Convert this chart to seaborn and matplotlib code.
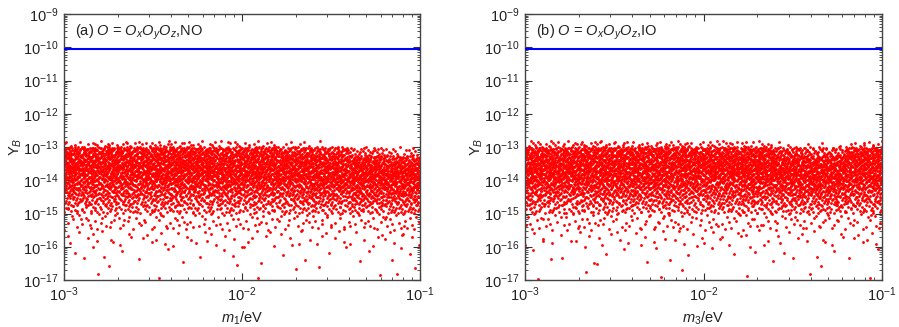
import numpy as np
import pandas as pd
import matplotlib
matplotlib.use("Agg")
import matplotlib.pyplot as plt
import matplotlib.ticker as mticker
import seaborn as sns

# ---------------- data ----------------
# log10 bin edges of the lightest-neutrino mass (x) and of Y_B (y)
X_EDGES_LOG = [-3.0, -2.8, -2.6, -2.4, -2.2, -2.0, -1.8, -1.6, -1.4, -1.2, -1.0]
# rows from top to bottom
Y_EDGES_LOG = [-12.82, -13.0, -13.25, -13.5, -13.75, -14.0, -14.25, -14.5,
               -14.75, -15.0, -15.5, -16.0, -16.5, -17.0]

# number of points seen in each (y-row, x-column) cell, panel (a) NO
NO_COUNTS = [
    [10, 12, 13, 12, 10, 10, 6, 2, 0, 0],
    [72, 75, 75, 75, 72, 72, 66, 54, 28, 14],
    [82, 82, 82, 82, 82, 82, 82, 78, 74, 62],
    [84, 84, 84, 84, 84, 84, 84, 84, 84, 84],
    [78, 78, 78, 78, 78, 78, 80, 84, 86, 86],
    [64, 64, 64, 64, 64, 64, 66, 70, 76, 78],
    [50, 50, 50, 50, 50, 50, 51, 53, 58, 62],
    [35, 35, 35, 35, 35, 35, 37, 38, 42, 45],
    [22, 22, 22, 22, 22, 22, 24, 24, 26, 30],
    [15, 15, 15, 15, 15, 15, 15, 15, 15, 18],
    [6, 6, 6, 6, 6, 6, 6, 6, 6, 7],
    [3, 2, 2, 2, 2, 2, 2, 2, 2, 3],
    [1, 1, 1, 0, 1, 1, 1, 1, 1, 2],
]

# panel (b) IO
IO_COUNTS = [
    [13, 13, 14, 13, 13, 13, 10, 4, 2, 11],
    [75, 75, 75, 75, 75, 75, 72, 54, 40, 70],
    [82, 82, 82, 82, 82, 82, 82, 80, 76, 82],
    [84, 84, 84, 84, 84, 84, 84, 84, 84, 84],
    [78, 78, 78, 78, 78, 78, 78, 82, 84, 82],
    [64, 64, 64, 64, 64, 64, 66, 70, 74, 66],
    [50, 50, 50, 50, 50, 50, 51, 53, 56, 51],
    [35, 35, 35, 35, 35, 35, 37, 38, 40, 37],
    [22, 22, 22, 22, 22, 22, 24, 24, 26, 24],
    [15, 15, 15, 15, 15, 15, 15, 15, 15, 15],
    [6, 6, 6, 6, 6, 6, 6, 6, 6, 6],
    [2, 2, 2, 2, 2, 2, 2, 2, 2, 2],
    [1, 1, 1, 1, 1, 0, 1, 1, 1, 1],
]

Y_OBSERVED = 8.7e-11
PANEL_TAGS = [r"(a) $O$ = $O_xO_yO_z$,NO", r"(b) $O$ = $O_xO_yO_z$,IO"]
X_LABELS = [r"$m_1$/eV", r"$m_3$/eV"]
Y_LABEL = r"$\mathrm{Y}_B$"


def radical_inverse(n, base):
    r, f = 0.0, 1.0 / base
    while n > 0:
        n, d = divmod(n, base)
        r += d * f
        f /= base
    return r


def expand_cells(counts, seed_offset):
    """Spread each cell's count evenly inside its cell (Halton layout)."""
    xs, ys = [], []
    for i, row in enumerate(counts):
        ytop, ybot = Y_EDGES_LOG[i], Y_EDGES_LOG[i + 1]
        for j, n in enumerate(row):
            xl, xr = X_EDGES_LOG[j], X_EDGES_LOG[j + 1]
            start = seed_offset + (i * len(row) + j) * 211 + 7
            for k in range(n):
                u = radical_inverse(start + k, 2)
                v = radical_inverse(start + k, 3)
                xs.append(10 ** (xl + u * (xr - xl)))
                ys.append(10 ** (ybot + v * (ytop - ybot)))
    return pd.DataFrame({"m": xs, "YB": ys})


sns.set_style("ticks")
plt.rcParams["font.family"] = ["Liberation Sans", "DejaVu Sans"]
plt.rcParams["mathtext.fontset"] = "custom"
plt.rcParams["mathtext.rm"] = "Liberation Sans"
plt.rcParams["mathtext.it"] = "Liberation Sans:italic"
plt.rcParams["mathtext.bf"] = "Liberation Sans:bold"

fig = plt.figure(figsize=(8.99, 3.27), dpi=100)
ax_a = fig.add_axes([64 / 899, 1 - 280 / 327, 356 / 899, 266 / 327])
ax_b = fig.add_axes([525 / 899, 1 - 280 / 327, 357 / 899, 266 / 327])

for p, (ax, counts, tag, xl) in enumerate(zip([ax_a, ax_b], [NO_COUNTS, IO_COUNTS],
                                               PANEL_TAGS, X_LABELS)):
    df = expand_cells(counts, p * 5003)
    sns.scatterplot(data=df, x="m", y="YB", ax=ax, color="#ff0000", s=4.2,
                    linewidth=0, marker="o", legend=False)
    ax.axhline(Y_OBSERVED, color="#0000ff", lw=1.5, zorder=3)
    ax.set_xscale("log")
    ax.set_yscale("log")
    ax.set_xlim(1e-3, 1e-1)
    ax.set_ylim(1e-17, 1e-9)
    ax.yaxis.set_major_locator(mticker.LogLocator(base=10, numticks=20))
    ax.yaxis.set_minor_locator(mticker.LogLocator(base=10, subs=np.arange(2, 10), numticks=20))
    ax.xaxis.set_major_locator(mticker.LogLocator(base=10, numticks=20))
    ax.xaxis.set_minor_locator(mticker.LogLocator(base=10, subs=np.arange(2, 10), numticks=20))
    ax.yaxis.set_minor_formatter(mticker.NullFormatter())
    ax.xaxis.set_minor_formatter(mticker.NullFormatter())
    ax.tick_params(which="both", direction="in", top=True, right=True,
                   color="#333333", labelsize=10.5, labelcolor="#222222")
    ax.tick_params(which="major", length=5, width=0.8, pad=4)
    ax.tick_params(which="minor", length=2.5, width=0.6)
    for sp in ax.spines.values():
        sp.set_color("#444444")
        sp.set_linewidth(1.0)
    ax.set_xlabel(xl, fontsize=10.5, color="#222222", labelpad=4)
    ax.set_ylabel(Y_LABEL, fontsize=10.5, color="#222222", labelpad=-1)
    ax.text(0.03, 0.93, tag, transform=ax.transAxes, fontsize=10.5,
            color="#222222", ha="left", va="center")

fig.savefig("out.png", dpi=100)
